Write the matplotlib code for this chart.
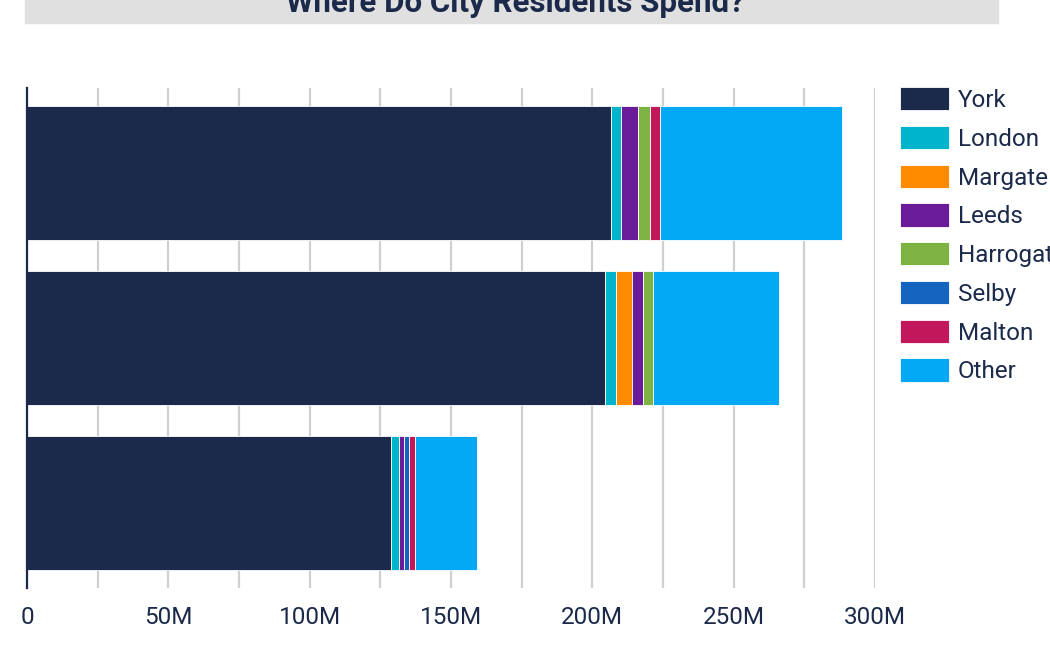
import matplotlib.pyplot as plt
from matplotlib.patches import Rectangle
import numpy as np

# spend in millions, one value per bar (top to bottom)
rows = ['A', 'B', 'C']
cities = ['York', 'London', 'Margate', 'Leeds', 'Harrogate', 'Selby', 'Malton', 'Other']
york = [206.5, 204.5, 128.7]
london = [3.5, 3.9, 2.8]
margate = [0.0, 5.6, 0.0]
leeds = [6.2, 4.0, 1.8]
harrogate = [4.2, 3.5, 0.0]
selby = [0.0, 0.0, 1.8]
malton = [3.4, 0.0, 2.1]
other = [64.4, 44.6, 21.9]

colors = ['#1b2a4a', '#00b4cc', '#ff8c00', '#6a1b9a', '#7cb342', '#1565c0', '#c2185b', '#03a9f4']
navy = '#1b2a4a'

plt.rcParams['font.family'] = ['Roboto', 'DejaVu Sans']

fig = plt.figure(figsize=(10.5, 6.46), dpi=100)
ax = fig.add_axes([27/1050, 58/646, 848/1050, 500/646])

series = [york, london, margate, leeds, harrogate, selby, malton, other]
y = np.arange(len(rows))
left = np.zeros(len(rows))
for name, vals, c in zip(cities, series, colors):
    vals = np.array(vals)
    ax.barh(y, vals, left=left, height=0.81, color=c, edgecolor='white',
            linewidth=0.6, label=name, zorder=2)
    left = left + vals

ax.set_xlim(0, 300)
ax.set_ylim(2.515, -0.515)
ax.set_xticks(np.arange(0, 301, 25))
ax.set_xticklabels(['0' if v == 0 else ('%dM' % v if v % 50 == 0 else '')
                    for v in range(0, 301, 25)])
ax.set_yticks([])
ax.grid(axis='x', color='#d0d0d0', linewidth=1.6, zorder=0)
ax.tick_params(axis='x', length=0, pad=13, labelsize=17.5, labelcolor=navy)
for s in ['top', 'right', 'bottom']:
    ax.spines[s].set_visible(False)
ax.spines['left'].set_color(navy)
ax.spines['left'].set_linewidth(1.6)
ax.spines['left'].set_zorder(3)

fig.legend(loc='upper left', bbox_to_anchor=(900/1050, 1 - 87/646),
           frameon=False, fontsize=17.5, handlelength=2.0, handleheight=1.1,
           handletextpad=0.38, labelspacing=0.57, borderpad=0, borderaxespad=0,
           labelcolor=navy)

# title band, cut off at top
fig.patches.append(Rectangle((25/1050, 1 - 23/646), 973/1050, 23/646,
                             transform=fig.transFigure, color='#e0e0e0', zorder=0))
fig.text(515/1050, 1 - 12/646, 'Where Do City Residents Spend?', ha='center',
         va='baseline', fontsize=22.5, fontweight='bold', color=navy)

plt.savefig('out.png', dpi=100)
